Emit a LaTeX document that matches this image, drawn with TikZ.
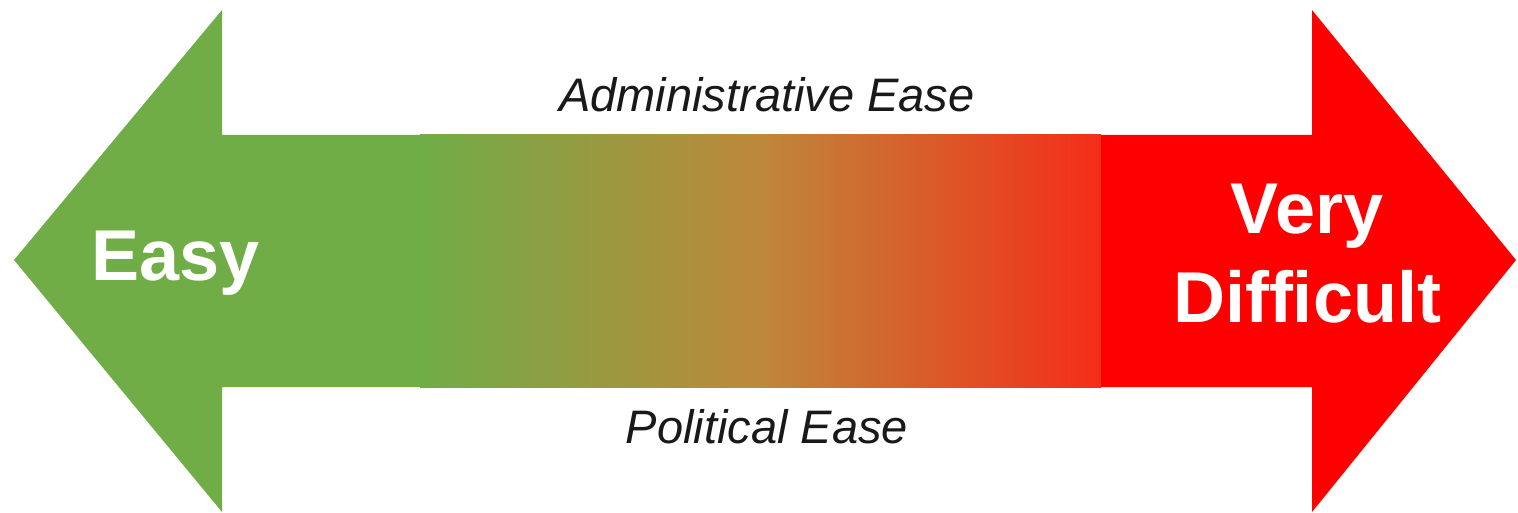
\documentclass[tikz,border=0pt]{standalone}
\usepackage{fontspec}
\setmainfont{Liberation Sans}
\definecolor{easygreen}{RGB}{112,173,71}
\definecolor{midbrown}{RGB}{190,136,58}
\definecolor{endred}{RGB}{245,45,25}
\definecolor{hardred}{RGB}{255,0,0}
\tikzset{
  bigword/.style={text=white, font=\fontsize{36pt}{44.5pt}\selectfont\bfseries, inner sep=0pt},
  smallword/.style={text=black!90, font=\fontsize{23.5pt}{28pt}\selectfont\itshape, inner sep=0pt},
}
\begin{document}
\begin{tikzpicture}[x=0.5pt,y=-0.5pt]
\useasboundingbox (0,0) rectangle (1518,513);
% left head + green solid part
\fill[easygreen] (14,260) -- (222,10) -- (222,135) -- (421,135) -- (421,387) -- (222,387) -- (222,512) -- cycle;
% gradient part, clipped to the shaft
\begin{scope}
\clip (420,135) rectangle (1101,387);
\shade[left color=easygreen, right color=endred, middle color=midbrown] (420,135) rectangle (1101,387);
\end{scope}
% right head + red solid part
\fill[hardred] (1101,135) -- (1312,135) -- (1312,10) -- (1516,260) -- (1312,512) -- (1312,387) -- (1101,387) -- cycle;
% texts
\node[bigword, anchor=base west] (easy) at (91,280) {Easy};
\node[bigword, anchor=base, align=center] (hard) at (1307,322) {Very\\Difficult};
\node[smallword, anchor=base] (admin) at (767,112) {Administrative Ease};
\node[smallword, anchor=base] (pol) at (767,443) {Political Ease};
\end{tikzpicture}
\end{document}
